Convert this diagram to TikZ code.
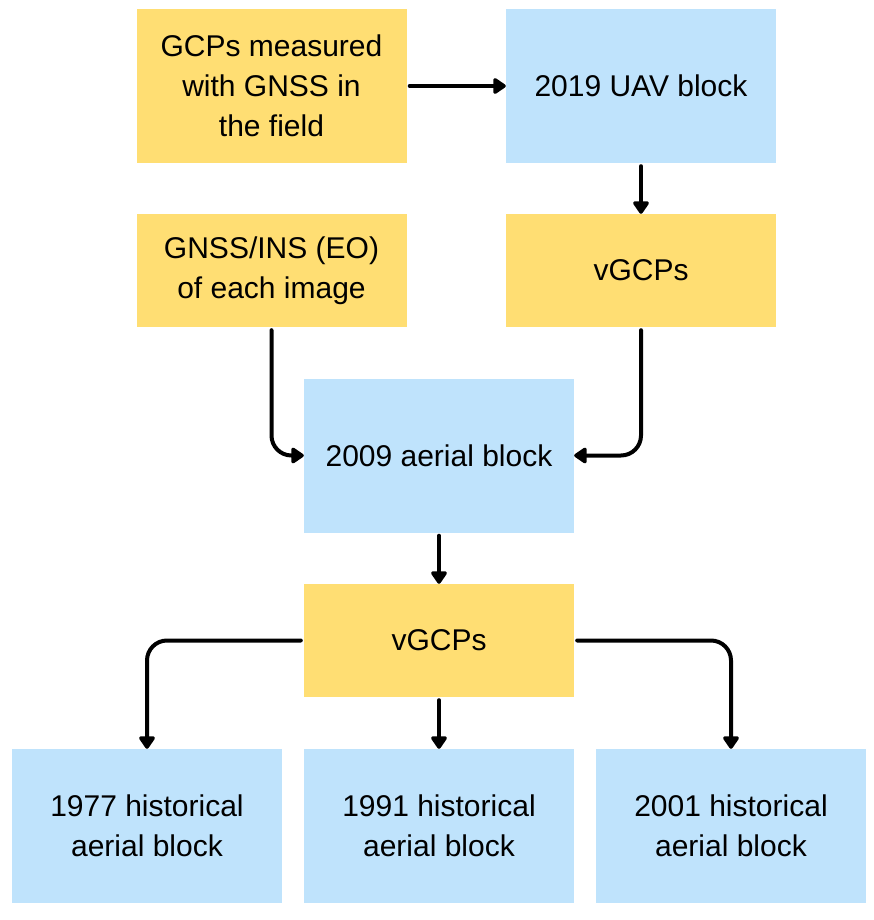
\documentclass[tikz,border=0pt]{standalone}
\usepackage{fontspec}
\setmainfont{Liberation Sans}
\usetikzlibrary{arrows.meta}
\definecolor{boxyellow}{HTML}{FFDE73}
\definecolor{boxblue}{HTML}{BFE3FC}
\tikzset{
  box/.style={minimum width=270pt, inner sep=0pt, align=center, font=\fontsize{30}{40}\selectfont},
  ybox/.style={box, fill=boxyellow},
  bbox/.style={box, fill=boxblue},
  tall/.style={minimum height=154pt},
  short/.style={minimum height=113pt},
  conn/.style={line width=4pt, -{Triangle[length=14pt,width=18pt,round]}, rounded corners=20pt, shorten <=3pt, line cap=round},
}
\begin{document}
\begin{tikzpicture}[x=1pt,y=-1pt]
\useasboundingbox (0,0) rectangle (874,920);
\node[ybox,tall] (A) at (271.5,86) {GCPs measured\\with GNSS in\\the field};
\node[bbox,tall] (B) at (641,86) {2019 UAV block};
\node[ybox,short] (C) at (271.5,270.5) {GNSS/INS (EO)\\of each image};
\node[ybox,short] (D) at (641,270.5) {vGCPs};
\node[bbox,tall] (E) at (439,455.5) {2009 aerial block};
\node[ybox,short] (F) at (439,640.5) {vGCPs};
\node[bbox,tall] (G1) at (147,826) {1977 historical\\aerial block};
\node[bbox,tall] (G2) at (439,826) {1991 historical\\aerial block};
\node[bbox,tall] (G3) at (731,826) {2001 historical\\aerial block};
\draw[conn] (A.east) -- (B.west);
\draw[conn] (B.south) -- (D.north);
\draw[conn] (C.south) |- (E.west);
\draw[conn] (D.south) |- (E.east);
\draw[conn] (E.south) -- (F.north);
\draw[conn] (F.west) -| (G1.north);
\draw[conn] (F.south) -- (G2.north);
\draw[conn] (F.east) -| (G3.north);
\end{tikzpicture}
\end{document}
